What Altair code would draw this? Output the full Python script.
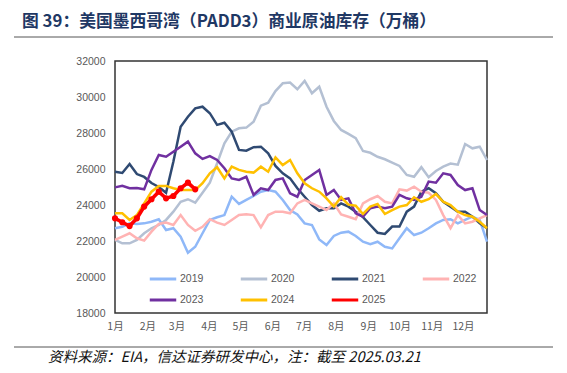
import altair as alt
import pandas as pd

title_text = "图 39：美国墨西哥湾（PADD3）商业原油库存（万桶）"
footer_text = "资料来源：EIA，信达证券研发中心，注：截至 2025.03.21"

years = ["2019", "2020", "2021", "2022", "2023", "2024", "2025"]
colors = ["#8FB8F8", "#B4C0D3", "#2F4A72", "#FFB3B3", "#7030A0", "#FFC000", "#FF0000"]

month_names = ["1月", "2月", "3月", "4月", "5月", "6月", "7月", "8月", "9月", "10月", "11月", "12月"]
month_start_day = [0, 31, 59, 90, 120, 151, 181, 212, 243, 273, 304, 334]
y_ticks = [18000, 20000, 22000, 24000, 26000, 28000, 30000, 32000]

v2019 = [22710, 22790, 22980, 22950, 22980, 23070, 23210, 22610, 22710, 22240, 21350, 21680, 22430, 23170, 23320, 23440, 24460, 24060,
         24280, 24500, 24740, 24830, 24740, 24280, 23720, 23480, 22980, 22890, 22090, 21780, 22280, 22460, 22520, 22280, 21960,
         21820, 21960, 21680, 21590, 22150, 22710, 22330, 22460, 22710, 22980, 23170, 23210, 22980, 23170, 23350, 23170, 21960]
v2020 = [22060, 21870, 21870, 22060, 22430, 22710, 22890, 23170, 23630, 24180, 24320, 24130, 24680, 25240, 26320, 27430, 28070, 28260,
         28300, 28630, 29520, 29680, 30330, 30760, 30800, 30430, 30890, 30210, 30570, 29460, 28670, 28170, 27950, 27710, 27000,
         26900, 26680, 26540, 26350, 26170, 25670, 25570, 26100, 25540, 25890, 26130, 26300, 26240, 27390, 27150, 27240, 26500]
v2021 = [25850, 25780, 26280, 25720, 25560, 25220, 25000, 24680, 26400, 28350, 28900, 29370, 29460, 29100, 28450, 28570, 28070, 27060,
         27020, 27210, 27240, 26870, 26170, 25760, 25480, 24930, 24460, 24000, 23680, 23820, 23820, 24090, 23910, 23630, 23330,
         22890, 22460, 22390, 22800, 22800, 23630, 23910, 24740, 24930, 24650, 24180, 23910, 23630, 23630, 23350, 22980, 22710]
v2022 = [22060, 22240, 22430, 22150, 22020, 22520, 22950, 23020, 22890, 23440, 22890, 22570, 22790, 23210, 23020, 22890, 23170, 23440,
         23480, 23440, 22760, 23440, 23630, 23630, 23540, 24090, 24280, 24090, 23910, 23720, 24090, 23480, 23350, 23210, 24090,
         24320, 24500, 24180, 24090, 24870, 24800, 25020, 24740, 24680, 24280, 23440, 22710, 23440, 22980, 23070, 23260, 23440]
v2023 = [24980, 25070, 24930, 24950, 24870, 25950, 26780, 26680, 26960, 27240, 27520, 26870, 26560, 26720, 26500, 26040, 25480, 25390,
         25570, 24560, 24930, 24830, 25390, 25480, 24650, 24460, 25390, 25670, 25950, 24560, 24830, 24280, 24370, 23540, 23350,
         23820, 23910, 23820, 23910, 24560, 24370, 24280, 24460, 25300, 25240, 25760, 25670, 25110, 24830, 24930, 23720, 23440]
v2024 = [23540, 23540, 23170, 23440, 24090, 24740, 25060, 25060, 24930, 24830, 24830, 24830, 25210, 25760, 26100, 25480, 26130, 25950,
         25850, 25800, 26130, 25850, 26650, 26220, 26500, 25760, 25210, 24930, 24740, 24370, 23910, 24430, 24020, 23960, 23500,
         23910, 24060, 23500, 23720, 23910, 24000, 24430, 24180, 24320, 24610, 24180, 24000, 23630, 23440, 23350, 23070, 22710]
v2025 = [23260, 23040, 22830, 23260, 23910, 24320, 24740, 24370, 24500, 24930, 25240, 24870]

series = [v2019, v2020, v2021, v2022, v2023, v2024, v2025]
rows = []
for order, (yr, vals) in enumerate(zip(years, series)):
    for i, v in enumerate(vals):
        rows.append({"week": i + 1, "value": v, "year": yr, "order": order})
df = pd.DataFrame(rows)
df_old = df[df["year"] != "2025"]
df_new = df[df["year"] == "2025"]

month_pos = [1 + d / 7 for d in month_start_day]
label_expr = ("[" + ",".join("'%s'" % m for m in month_names) + "][indexof(["
              + ",".join(str(d) for d in month_start_day) + "], round((datum.value - 1) * 7))]")

color_scale = alt.Scale(domain=years, range=colors)
x_enc = alt.X("week:Q", scale=alt.Scale(domain=[1, 52], nice=False, zero=False),
              axis=alt.Axis(values=month_pos, labelExpr=label_expr, grid=False, ticks=False, domain=False,
                            labelPadding=8, labelColor="#595959", labelFontSize=10.5, labelFont="Noto Sans CJK SC",
                            labelFlush=False, labelOverlap=False, title=None))
y_enc = alt.Y("value:Q", scale=alt.Scale(domain=[18000, 32000], nice=False, zero=False),
              axis=alt.Axis(values=y_ticks, format="d", grid=False, ticks=False, domain=False, labelPadding=10,
                            labelColor="#595959", labelFontSize=10.5, labelFont="Liberation Sans", title=None))

legend = alt.Legend(orient="none", legendX=33, legendY=203, direction="horizontal", columns=4,
                    symbolType="stroke", symbolStrokeWidth=3, symbolSize=700, labelFontSize=10.5,
                    labelColor="#595959", labelFont="Liberation Sans", title=None, columnPadding=30,
                    rowPadding=-8, labelOffset=2, padding=0)

lines = alt.Chart(df_old).mark_line(strokeWidth=2.5).encode(
    x=x_enc, y=y_enc,
    color=alt.Color("year:N", scale=color_scale, legend=legend),
    order=alt.Order("week:Q"),
)
red = alt.Chart(df_new).mark_line(strokeWidth=3.6, color="#FF0000",
                                  point=alt.OverlayMarkDef(filled=True, size=38, color="#FF0000")).encode(
    x=x_enc, y=y_enc,
    color=alt.Color("year:N", scale=color_scale, legend=legend),
)

text_df = pd.DataFrame({"t": [title_text]})
foot_df = pd.DataFrame({"t": [footer_text]})
title = alt.Chart(text_df).mark_text(align="left", baseline="middle", fontSize=16.8, fontWeight="bold",
                                     font="Noto Sans CJK SC", color="#1F3864").encode(
    text="t:N", x=alt.value(-93), y=alt.value(-39))
footer = alt.Chart(foot_df).mark_text(align="left", baseline="middle", fontSize=14.5, fontStyle="italic",
                                      font="Noto Sans CJK SC", color="#111111").encode(
    text="t:N", x=alt.value(-67), y=alt.value(297))
rule_top = alt.Chart(text_df).mark_rule(color="#555555", strokeWidth=1).encode(
    x=alt.value(-101), x2=alt.value(438), y=alt.value(-24))
rule_bot = alt.Chart(text_df).mark_rule(color="#555555", strokeWidth=1).encode(
    x=alt.value(-101), x2=alt.value(438), y=alt.value(286))

chart = alt.layer(lines, red, title, footer, rule_top, rule_bot).properties(
    width=372, height=252,
    padding={"left": 107, "top": 53, "right": 72, "bottom": 52},
    autosize=alt.AutoSizeParams(type="none"),
    background="white",
).configure_view(stroke="#333333", strokeWidth=1.5)

chart.save("out.html", embed_options={"renderer": "svg", "actions": False})
